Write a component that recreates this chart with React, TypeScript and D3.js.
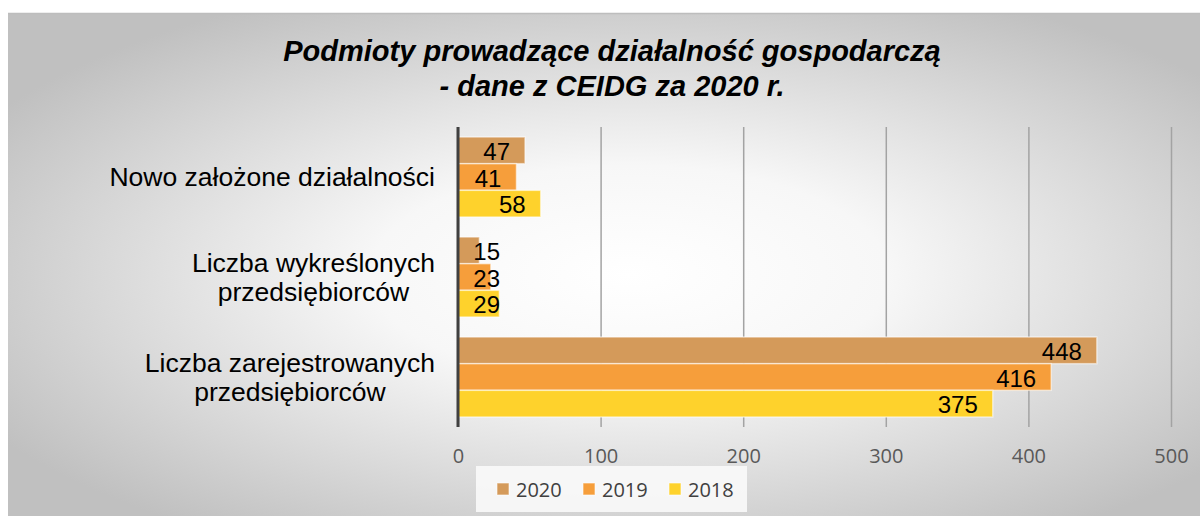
import React, { useRef, useEffect } from "react";
import { select, scaleLinear, scaleBand, axisBottom } from "d3";

const categories = [
  "Nowo założone działalności",
  "Liczba wykreślonych przedsiębiorców",
  "Liczba zarejestrowanych przedsiębiorców",
];
const categoryLines = [
  ["Nowo założone działalności"],
  ["Liczba wykreślonych", "przedsiębiorców"],
  ["Liczba zarejestrowanych", "przedsiębiorców"],
];
const years = ["2020", "2019", "2018"];
const values2020 = [47, 15, 448];
const values2019 = [41, 23, 416];
const values2018 = [58, 29, 375];
const xTicks = [0, 100, 200, 300, 400, 500];

const colors: Record<string, string> = {
  "2020": "#d49a5a",
  "2019": "#f69e3b",
  "2018": "#fed22c",
};

const App = () => {
  const svgRef = useRef<SVGSVGElement>(null);

  useEffect(() => {
    const svg = select(svgRef.current);
    const plot = svg.select(".plot");
    plot.selectAll("*").remove();

    const top = 127;
    const bottom = 427;
    const x = scaleLinear().domain([0, 500]).range([458, 1171]);
    const y = scaleBand<string>()
      .domain(categories)
      .range([top, bottom])
      .paddingInner(0.2)
      .paddingOuter(0.1);
    const ySeries = scaleBand<string>()
      .domain(years)
      .range([0, y.bandwidth()]);

    const seriesValues: Record<string, number[]> = {
      "2020": values2020,
      "2019": values2019,
      "2018": values2018,
    };

    // grid lines + tick labels
    const xAxis = axisBottom(x).tickValues(xTicks).tickSize(-(bottom - top)).tickPadding(22);
    const gAxis = plot
      .append("g")
      .attr("transform", `translate(0,${bottom})`)
      .call(xAxis);
    gAxis.select(".domain").remove();
    gAxis.selectAll(".tick line").attr("stroke", "#a3a3a3").attr("stroke-width", 1.5);
    gAxis
      .selectAll(".tick text")
      .attr("fill", "#595959")
      .style("font-family", "'Open Sans', sans-serif")
      .style("font-size", "20px");

    const rows = categories.map((c, i) => ({
      category: c,
      items: years.map((yr) => ({ year: yr, value: seriesValues[yr][i] })),
    }));

    const groups = plot
      .selectAll(".grp")
      .data(rows)
      .join("g")
      .attr("class", "grp")
      .attr("transform", (d) => `translate(0,${y(d.category)})`);

    groups
      .selectAll("rect")
      .data((d) => d.items)
      .join("rect")
      .attr("x", x(0))
      .attr("y", (d) => ySeries(d.year)!)
      .attr("width", (d) => x(d.value) - x(0))
      .attr("height", ySeries.bandwidth())
      .attr("fill", (d) => colors[d.year])
      .attr("stroke", "rgba(255,255,255,0.55)")
      .attr("stroke-width", 1.5);

    groups
      .selectAll("text.val")
      .data((d) => d.items)
      .join("text")
      .attr("class", "val")
      .attr("x", (d) => Math.max(x(d.value) - 15, x(0) + 42))
      .attr("y", (d) => ySeries(d.year)! + ySeries.bandwidth() / 2 + 1)
      .attr("text-anchor", "end")
      .attr("dominant-baseline", "central")
      .style("font-family", "'Liberation Sans', Arial, sans-serif")
      .style("font-size", "24px")
      .attr("fill", "#000")
      .text((d) => d.value);

    // category labels: block right-aligned at 435, lines centred
    const labels = plot
      .selectAll(".cat")
      .data(categories)
      .join("text")
      .attr("class", "cat")
      .style("font-family", "'Liberation Sans', Arial, sans-serif")
      .style("font-size", "26.5px")
      .attr("fill", "#000")
      .attr("text-anchor", "middle");

    labels.each(function (c, i) {
      const lines = categoryLines[i];
      const t = select(this);
      const cy = y(c)! + y.bandwidth() / 2;
      const n = lines.length;
      const tmp = t.append("tspan").text(lines.reduce((a, b) => (b.length > a.length ? b : a)));
      const w = (tmp.node() as SVGTextContentElement).getComputedTextLength();
      tmp.remove();
      const cx = 435 - w / 2;
      lines.forEach((ln, k) => {
        t.append("tspan")
          .attr("x", cx)
          .attr("y", cy + (k - (n - 1) / 2) * 29)
          .attr("dominant-baseline", "central")
          .text(ln);
      });
    });

    // value axis line
    plot
      .append("line")
      .attr("x1", x(0))
      .attr("x2", x(0))
      .attr("y1", top)
      .attr("y2", bottom)
      .attr("stroke", "#404040")
      .attr("stroke-width", 3);
  }, []);

  return (
    <svg
      ref={svgRef}
      width={1200}
      height={516}
      style={{ position: "absolute", left: 0, top: 0, background: "#fff" }}
    >
      <defs>
        <radialGradient id="bg" cx="0.52" cy="0.52" r="0.62" gradientUnits="objectBoundingBox">
          <stop offset="0" stopColor="#ffffff" />
          <stop offset="0.35" stopColor="#f7f7f7" />
          <stop offset="1" stopColor="#c0c0c0" />
        </radialGradient>
      </defs>
      <rect x={8} y={13} width={1195} height={503} fill="url(#bg)" />
      <line x1={8} x2={1200} y1={13.5} y2={13.5} stroke="#bdbdbd" strokeWidth={1.5} />
      <text
        textAnchor="middle"
        style={{ fontFamily: "'Liberation Sans', Arial, sans-serif", fontSize: 29, fontWeight: "bold", fontStyle: "italic" }}
      >
        <tspan x={612} y={61}>Podmioty prowadzące działalność gospodarczą</tspan>
        <tspan x={612} y={96}>- dane z CEIDG za 2020 r.</tspan>
      </text>
      <g className="plot" />
      <rect x={476} y={466} width={271} height={46} fill="#f9f9f9" opacity={0.9} />
      {years.map((yr, i) => {
        const lx = [497, 583, 669][i];
        return (
          <g key={yr}>
            <rect x={lx} y={483} width={12} height={12} fill={colors[yr]} stroke="rgba(255,255,255,0.6)" />
            <text
              x={lx + 19}
              y={489}
              dominantBaseline="central"
              fill="#404040"
              style={{ fontFamily: "'Open Sans', sans-serif", fontSize: 20 }}
            >
              {yr}
            </text>
          </g>
        );
      })}
    </svg>
  );
};

export default App;
